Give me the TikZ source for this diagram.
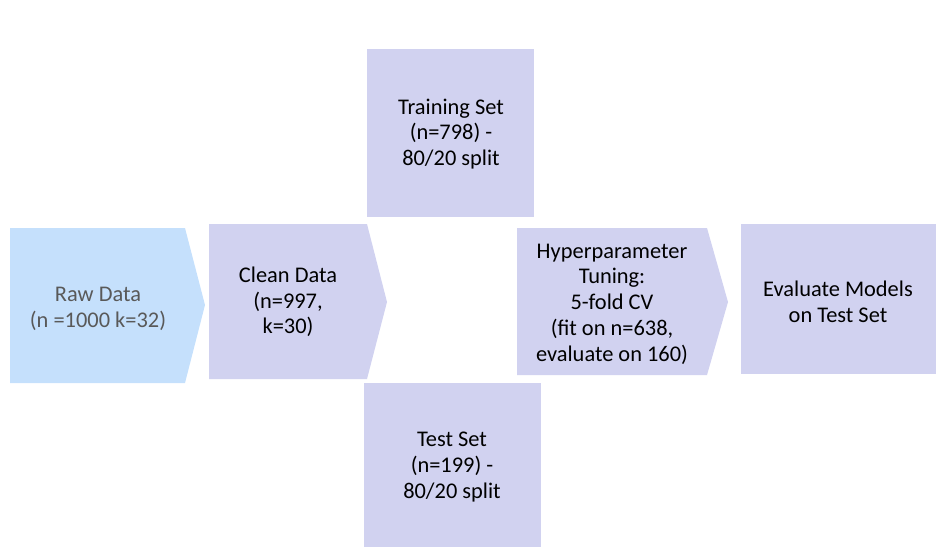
\documentclass[tikz,border=0pt]{standalone}
\usepackage{fontspec}
\setmainfont{Carlito}
\definecolor{lav}{RGB}{209,210,240}
\definecolor{lblue}{RGB}{197,224,252}
\definecolor{graytxt}{RGB}{89,89,89}
\begin{document}
\begin{tikzpicture}[x=0.75pt,y=-0.75pt,
  lbl/.style={align=center,font=\fontsize{16.8}{19.3}\selectfont,text=black,inner sep=0pt}]
\useasboundingbox (0,0) rectangle (948,553);
% shapes
\fill[lblue] (10,228) -- (185,228) -- (205,305) -- (185,383) -- (10,383) -- cycle;
\fill[lav] (209,224) -- (367,224) -- (387,302) -- (367,379) -- (209,379) -- cycle;
\fill[lav] (367,49) rectangle (534,217);
\fill[lav] (364,383) rectangle (541,547);
\fill[lav] (517,228) -- (707,228) -- (728,302) -- (707,375) -- (517,375) -- cycle;
\fill[lav] (741,224) rectangle (936,374);
% texts
\node[lbl,text=graytxt] (raw) at (98,309) {Raw Data\\(n =1000 k=32)};
\node[lbl] (clean) at (288,302) {Clean Data\\(n=997,\\k=30)};
\node[lbl] (train) at (451,134) {Training Set\\(n=798) -\\80/20 split};
\node[lbl] (test) at (452,467) {Test Set\\(n=199) -\\80/20 split};
\node[lbl] (hyper) at (612,304) {Hyperparameter\\Tuning:\\5-fold CV\\(fit on n=638,\\evaluate on 160)};
\node[lbl] (eval) at (838,302) {Evaluate Models\\on Test Set};
\end{tikzpicture}
\end{document}
